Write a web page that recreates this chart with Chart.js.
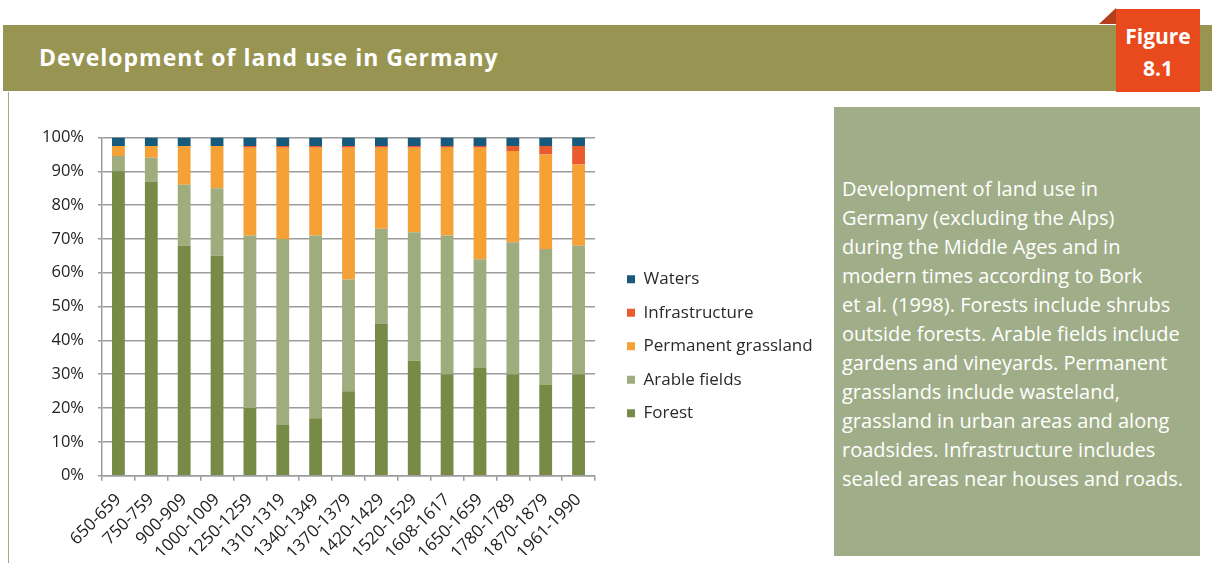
<!DOCTYPE html>
<html>
<head>
<meta charset="utf-8">
<script src="https://cdn.jsdelivr.net/npm/chart.js@4.4.1/dist/chart.umd.min.js"></script>
<style>
  html, body { margin:0; padding:0; background:#fff; width:1212px; height:563px; overflow:hidden; font-family: "Open Sans", Lato, sans-serif; }
  #band { position:absolute; left:3px; top:25px; width:1209px; height:66px; background:#989452; }
  #title { position:absolute; left:39px; top:24px; height:66px; line-height:66px; color:#fff; font-weight:bold; font-size:23px; letter-spacing:1px; }
  #vline { position:absolute; left:8px; top:92px; width:1px; height:471px; background:#a8a67a; }
  #fold { position:absolute; left:1099px; top:8px; width:17px; height:16px; background:#b53e1d; clip-path: polygon(100% 0, 0 100%, 100% 100%); }
  #badge { position:absolute; left:1116px; top:9px; width:84px; height:83px; background:#e8491d; color:#fff; font-weight:bold; font-size:21px; text-align:center; }
  #badge .l1 { position:absolute; left:0; right:0; top:13px; line-height:28px; }
  #badge .l2 { position:absolute; left:0; right:0; top:45px; line-height:28px; }
  #note { position:absolute; left:834px; top:107px; width:366px; height:449px; background:#9fae88; color:#fff; font-size:20px; line-height:29px; box-sizing:border-box; padding:67px 0 0 8px; white-space:nowrap; }
  #wrap { position:absolute; left:0; top:100px; width:830px; height:463px; }
</style>
</head>
<body>
<div id="band"></div>
<div id="title">Development of land use in Germany</div>
<div id="vline"></div>
<div id="fold"></div>
<div id="badge"><div class="l1">Figure</div><div class="l2">8.1</div></div>
<div id="note">Development of land use in<br>Germany (excluding the Alps)<br>during the Middle Ages and in<br>modern times according to Bork<br>et al. (1998). Forests include shrubs<br>outside forests. Arable fields include<br>gardens and vineyards. Permanent<br>grasslands include wasteland,<br>grassland in urban areas and along<br>roadsides. Infrastructure includes<br>sealed areas near houses and roads.</div>
<div id="wrap"><canvas id="c" width="830" height="463"></canvas></div>
<script>
const periods = ["650-659","750-759","900-909","1000-1009","1250-1259","1310-1319","1340-1349","1370-1379","1420-1429","1520-1529","1608-1617","1650-1659","1780-1789","1870-1879","1961-1990"];
const forest =         [90, 87, 68, 65, 20, 15, 17, 25, 45, 34, 30, 32, 30, 27, 30];
const arableFields =   [4.5, 7, 18, 20, 51, 55, 54, 33, 28, 38, 41, 32, 39, 40, 38];
const permGrassland =  [3, 3.5, 11.5, 12.5, 26, 27, 26, 39, 24, 25, 26, 33, 27, 28, 24];
const infrastructure = [0, 0, 0, 0, 0.5, 0.5, 0.5, 0.5, 0.5, 0.5, 0.5, 0.5, 1.5, 2.5, 5.5];
const waters =         [2.5, 2.5, 2.5, 2.5, 2.5, 2.5, 2.5, 2.5, 2.5, 2.5, 2.5, 2.5, 2.5, 2.5, 2.5];
const yTicks = [0,10,20,30,40,50,60,70,80,90,100];

const FONT = "'Open Sans', Lato, sans-serif";
const gridCol = '#9c9c9c';

const legendWidthPlugin = {
  id: 'legendWidth',
  beforeLayout(chart) {
    const lg = chart.legend;
    if (lg && !lg._patched) {
      const f = lg.fit.bind(lg);
      lg.fit = function() { f(); this.width = 219.5; };
      lg._patched = true;
    }
  }
};

new Chart(document.getElementById('c'), {
  type: 'bar',
  data: {
    labels: periods,
    datasets: [
      { label: 'Forest', data: forest, backgroundColor: '#778b47' },
      { label: 'Arable fields', data: arableFields, backgroundColor: '#9fac7e' },
      { label: 'Permanent grassland', data: permGrassland, backgroundColor: '#f6a136' },
      { label: 'Infrastructure', data: infrastructure, backgroundColor: '#e95a2e' },
      { label: 'Waters', data: waters, backgroundColor: '#175a7c' }
    ]
  },
  options: {
    responsive: false,
    animation: false,
    layout: { padding: { top: 37.5, left: 0, right: 0, bottom: 8 } },
    datasets: { bar: { barPercentage: 0.39, categoryPercentage: 1.0 } },
    plugins: {
      legend: {
        position: 'right',
        align: 'center',
        reverse: true,
        labels: {
          boxWidth: 8, boxHeight: 8, padding: 16.5,
          color: '#2a2a2a', font: { family: FONT, size: 17 }
        }
      },
      tooltip: { enabled: false }
    },
    scales: {
      x: {
        stacked: true,
        grid: { display: true, drawOnChartArea: false, drawTicks: true, tickLength: 5, color: gridCol, lineWidth: 1.5, offset: true },
        border: { display: true, color: gridCol, width: 1.5 },
        ticks: { color: '#222', font: { family: FONT, size: 17 }, maxRotation: 45, minRotation: 45, autoSkip: false, padding: 9 },
        afterFit(s) { s.height = 79.3; }
      },
      y: {
        stacked: true,
        min: 0, max: 100,
        afterBuildTicks(s) { s.ticks = yTicks.map(v => ({ value: v })); },
        grid: { color: gridCol, lineWidth: 1.5, drawTicks: true, tickLength: 4 },
        border: { display: true, color: gridCol, width: 1.5 },
        ticks: { color: '#222', font: { family: FONT, size: 16.5 }, padding: 14, callback: v => v + '%' },
        afterFit(s) { s.width = 102; }
      },
      gap: {
        type: 'linear', position: 'right', display: true,
        grid: { display: false }, border: { display: false }, ticks: { display: false },
        afterFit(s) { s.width = 15.5; }
      }
    }
  },
  plugins: [legendWidthPlugin]
});
</script>
</body>
</html>
